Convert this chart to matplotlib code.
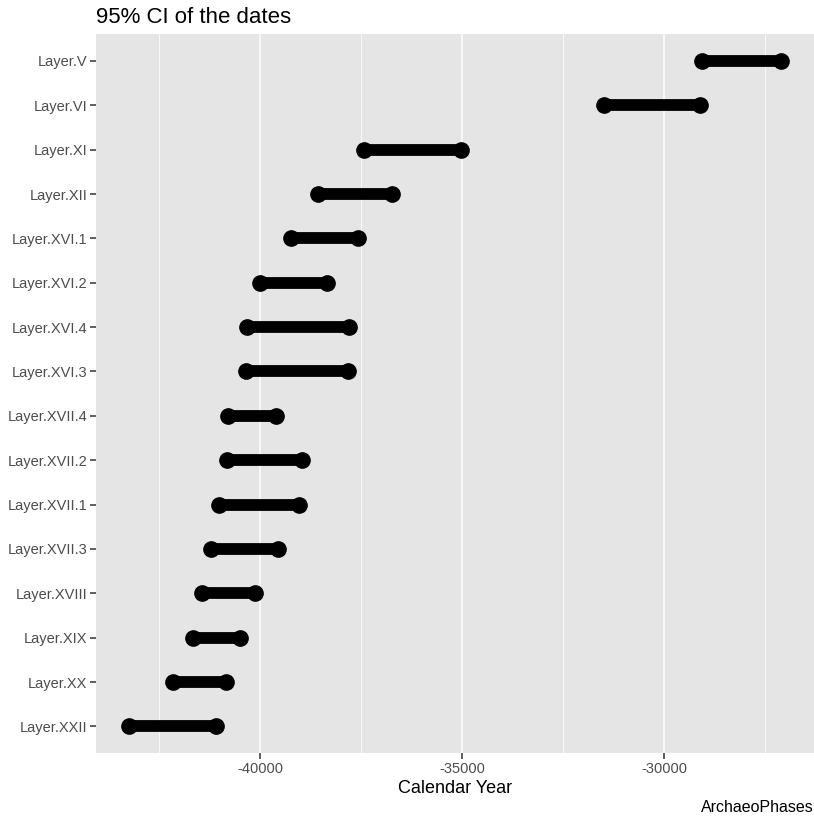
import matplotlib
matplotlib.use("Agg")
import matplotlib.pyplot as plt
import numpy as np

# 95% CI bounds per layer (top to bottom as drawn)
layers = [
    "Layer.V", "Layer.VI", "Layer.XI", "Layer.XII", "Layer.XVI.1", "Layer.XVI.2",
    "Layer.XVI.4", "Layer.XVI.3", "Layer.XVII.4", "Layer.XVII.2", "Layer.XVII.1",
    "Layer.XVII.3", "Layer.XVIII", "Layer.XIX", "Layer.XX", "Layer.XXII",
]
ci_lower = [-29074, -31495, -37423, -38557, -39246, -40010, -40330, -40355,
            -40805, -40830, -41010, -41224, -41446, -41660, -42153, -43244]
ci_upper = [-27103, -29114, -35017, -36734, -37586, -38335, -37793, -37818,
            -39599, -38966, -39032, -39549, -40116, -40502, -40837, -41094]

plt.rcParams["font.family"] = ["Liberation Sans", "DejaVu Sans"]

W, H = 814, 818
fig = plt.figure(figsize=(W / 100, H / 100), dpi=100)
ax = fig.add_axes([96.3 / W, (H - 753) / H, (814 - 96.3) / W, (753 - 34.3) / H])
ax.set_facecolor("#E5E5E5")

n = len(layers)
ypos = np.arange(n)[::-1]  # first layer on top

ax.hlines(ypos, ci_lower, ci_upper, color="black", lw=8.5, zorder=3)
ax.plot(ci_lower, ypos, "o", color="black", ms=11, zorder=4)
ax.plot(ci_upper, ypos, "o", color="black", ms=11, zorder=4)

lo, hi = min(ci_lower), max(ci_upper)
pad = 0.05 * (hi - lo)
ax.set_xlim(lo - pad, hi + pad)
ax.set_ylim(-0.6, n - 1 + 0.6)

ax.set_xticks([-40000, -35000, -30000])
ax.set_xticklabels(["-40000", "-35000", "-30000"])
ax.set_xticks([-42500, -37500, -32500, -27500], minor=True)
ax.set_yticks(ypos)
ax.set_yticklabels(layers)

ax.grid(axis="x", which="major", color="white", lw=1.1, zorder=0)
ax.grid(axis="x", which="minor", color="white", lw=0.55, zorder=0)
ax.set_axisbelow(True)
for s in ax.spines.values():
    s.set_visible(False)

ax.tick_params(axis="both", which="major", length=4, width=1.1, color="#333333",
               labelcolor="#4D4D4D", labelsize=10.5, pad=2.5)
ax.tick_params(axis="x", which="minor", length=0)

ax.set_xlabel("Calendar Year", fontsize=13, color="black", labelpad=3)
ax.set_title("95% CI of the dates", loc="left", fontsize=16, pad=8)
fig.text(814 / W, 1 - 808 / H, "ArchaeoPhases", ha="right", va="center", fontsize=11.5)

fig.savefig("out.png", dpi=100)
